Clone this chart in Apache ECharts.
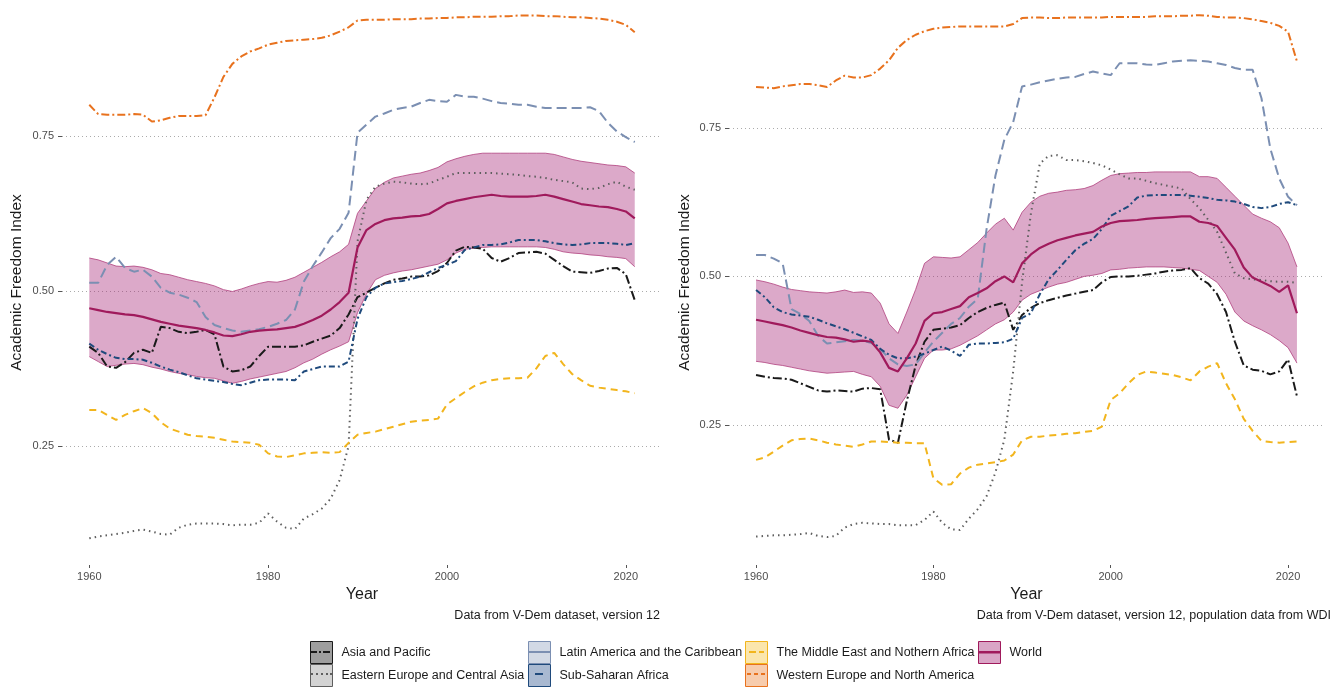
<!DOCTYPE html>
<html>
<head>
<meta charset="utf-8">
<script src="https://cdn.jsdelivr.net/npm/echarts@6.0.0/dist/echarts.min.js"></script>
<style>
  html, body { margin: 0; padding: 0; background: #fff; }
  #chart { width: 1343px; height: 688px; }
</style>
</head>
<body>
<div id="chart"></div>
<script>
const years = [1960,1961,1962,1963,1964,1965,1966,1967,1968,1969,1970,1971,1972,1973,1974,1975,1976,1977,1978,1979,
  1980,1981,1982,1983,1984,1985,1986,1987,1988,1989,1990,1991,1992,1993,1994,1995,1996,1997,1998,1999,
  2000,2001,2002,2003,2004,2005,2006,2007,2008,2009,2010,2011,2012,2013,2014,2015,2016,2017,2018,2019,2020,2021];

// left panel - regional means
const asiaL = [.410,.400,.378,.376,.385,.400,.405,.400,.442,.440,.434,.432,.434,.437,.430,.378,.370,.372,.378,.395,
  .410,.410,.410,.410,.412,.418,.423,.428,.440,.462,.490,.497,.505,.512,.518,.520,.523,.523,.525,.532,
  .545,.565,.571,.570,.568,.553,.547,.553,.561,.562,.563,.560,.550,.540,.531,.530,.529,.532,.536,.537,.527,.485];
const eastL = [.101,.104,.106,.108,.110,.113,.115,.112,.108,.107,.118,.123,.125,.125,.125,.124,.122,.123,.123,.126,
  .141,.128,.118,.116,.133,.140,.149,.165,.195,.250,.580,.647,.668,.673,.676,.675,.673,.672,.673,.679,
  .684,.690,.690,.690,.690,.690,.689,.688,.687,.685,.684,.682,.679,.677,.675,.665,.664,.666,.672,.676,.668,.663];
const latinL = [.513,.513,.542,.555,.537,.531,.534,.523,.505,.497,.494,.489,.482,.458,.445,.440,.436,.434,.436,.438,
  .442,.447,.453,.470,.515,.540,.562,.585,.600,.626,.755,.768,.781,.786,.792,.795,.797,.803,.808,.806,
  .805,.816,.813,.813,.810,.806,.803,.802,.800,.800,.797,.795,.795,.795,.795,.795,.796,.790,.771,.757,.748,.740];
const ssaL = [.415,.405,.398,.392,.390,.390,.389,.384,.378,.373,.369,.364,.359,.357,.355,.353,.350,.348,.352,.356,
  .357,.357,.357,.356,.370,.374,.378,.378,.378,.386,.455,.490,.505,.512,.514,.516,.519,.523,.530,.537,
  .542,.548,.566,.570,.574,.574,.575,.578,.582,.582,.582,.580,.577,.575,.574,.575,.577,.577,.577,.576,.574,.577];
const menaL = [.308,.308,.300,.292,.300,.306,.311,.303,.288,.278,.273,.268,.266,.265,.263,.260,.257,.256,.255,.252,
  .238,.233,.232,.235,.238,.239,.240,.239,.240,.255,.268,.271,.273,.277,.281,.285,.289,.291,.292,.294,
  .317,.327,.337,.346,.352,.356,.358,.359,.359,.360,.375,.395,.400,.382,.366,.356,.347,.344,.342,.340,.338,.335];
const westL = [.800,.785,.784,.784,.784,.785,.784,.773,.775,.779,.782,.782,.782,.783,.812,.845,.866,.878,.886,.891,
  .897,.900,.903,.904,.905,.906,.908,.912,.918,.925,.936,.937,.937,.937,.938,.938,.938,.939,.939,.940,
  .940,.941,.941,.942,.942,.942,.943,.943,.944,.944,.944,.943,.943,.942,.941,.941,.940,.939,.937,.934,.929,.917];
const worldL = [.472,.469,.466,.464,.462,.461,.458,.454,.450,.447,.444,.442,.440,.437,.433,.428,.427,.430,.434,.436,
  .437,.438,.440,.442,.447,.453,.460,.470,.482,.497,.570,.598,.608,.614,.617,.618,.620,.621,.624,.632,
  .641,.645,.648,.651,.653,.655,.653,.652,.652,.652,.653,.655,.652,.648,.644,.640,.638,.636,.635,.632,.628,.617];
const worldLoL = [.394,.386,.378,.380,.382,.383,.381,.377,.374,.370,.367,.365,.362,.360,.359,.355,.351,.354,.358,.361,
  .364,.367,.370,.376,.384,.390,.398,.405,.411,.418,.465,.495,.518,.525,.529,.532,.534,.537,.540,.543,
  .550,.561,.567,.569,.570,.571,.571,.571,.571,.571,.571,.570,.567,.563,.561,.560,.558,.557,.555,.554,.552,.539];
const worldHiL = [.553,.550,.545,.540,.539,.540,.538,.534,.528,.526,.522,.518,.515,.512,.508,.502,.499,.503,.508,.512,
  .515,.514,.517,.522,.530,.538,.546,.555,.563,.575,.625,.645,.665,.675,.682,.685,.688,.690,.694,.699,
  .708,.713,.717,.720,.722,.722,.722,.722,.722,.722,.722,.722,.720,.716,.712,.709,.707,.705,.703,.702,.700,.690];

// right panel - population weighted
const asiaR = [.334,.331,.329,.328,.326,.320,.314,.308,.306,.308,.307,.306,.311,.312,.310,.225,.220,.290,.350,.390,
  .410,.412,.414,.418,.430,.440,.447,.452,.456,.410,.435,.447,.455,.460,.464,.468,.471,.474,.477,.490,
  .499,.500,.500,.501,.503,.505,.508,.510,.511,.514,.497,.488,.470,.440,.390,.350,.343,.341,.335,.340,.360,.298];
const eastR = [.062,.063,.064,.064,.065,.066,.068,.063,.061,.063,.077,.083,.085,.084,.083,.083,.081,.081,.081,.090,
  .104,.085,.074,.073,.092,.108,.130,.170,.225,.340,.490,.606,.690,.703,.704,.696,.696,.694,.691,.687,
  .680,.672,.665,.665,.661,.657,.654,.651,.648,.630,.615,.595,.575,.540,.505,.497,.495,.494,.492,.491,.491,.489];
const latinR = [.536,.536,.530,.522,.445,.437,.425,.400,.387,.389,.391,.393,.392,.388,.378,.362,.352,.349,.352,.372,
  .390,.405,.420,.430,.449,.462,.580,.670,.730,.760,.820,.823,.827,.830,.833,.835,.836,.841,.845,.842,
  .839,.859,.859,.859,.857,.856,.859,.862,.863,.864,.863,.862,.859,.856,.851,.848,.848,.800,.715,.665,.634,.620];
const ssaR = [.477,.465,.448,.440,.436,.434,.432,.427,.421,.416,.411,.405,.399,.393,.378,.368,.362,.362,.365,.370,
  .376,.382,.375,.366,.385,.387,.387,.388,.389,.395,.430,.438,.470,.495,.511,.528,.544,.555,.563,.580,
  .602,.610,.618,.633,.636,.637,.637,.637,.637,.636,.634,.632,.629,.628,.626,.622,.617,.615,.617,.622,.625,.620];
const menaR = [.191,.195,.205,.215,.224,.226,.227,.224,.220,.217,.215,.213,.217,.222,.222,.221,.220,.220,.219,.219,
  .160,.149,.150,.168,.178,.183,.185,.187,.190,.200,.224,.230,.230,.232,.233,.235,.236,.238,.240,.247,
  .292,.303,.320,.334,.340,.338,.336,.334,.330,.325,.340,.348,.354,.320,.293,.260,.240,.223,.221,.220,.221,.222];
const westR = [.819,.818,.817,.820,.822,.824,.824,.822,.819,.830,.838,.835,.835,.839,.850,.864,.885,.898,.907,.913,
  .917,.919,.920,.921,.921,.921,.921,.921,.921,.925,.935,.936,.936,.935,.935,.936,.936,.936,.936,.936,
  .937,.937,.937,.937,.937,.938,.938,.938,.939,.939,.940,.939,.937,.936,.936,.935,.933,.930,.927,.922,.912,.862];
const worldR = [.427,.424,.421,.418,.414,.409,.405,.401,.398,.397,.394,.390,.392,.390,.372,.346,.340,.362,.387,.425,
  .438,.440,.445,.450,.465,.472,.480,.492,.500,.490,.522,.537,.548,.555,.561,.565,.569,.572,.575,.584,
  .590,.593,.594,.595,.597,.598,.599,.600,.601,.601,.592,.590,.585,.565,.545,.515,.498,.491,.484,.474,.485,.438];
const worldLoR = [.357,.355,.352,.350,.347,.344,.341,.339,.337,.338,.339,.340,.335,.331,.315,.283,.278,.300,.331,.362,
  .376,.376,.378,.384,.392,.400,.410,.420,.427,.440,.460,.470,.476,.482,.487,.490,.495,.500,.502,.505,
  .511,.512,.514,.515,.516,.516,.516,.515,.514,.512,.510,.500,.490,.470,.440,.425,.417,.410,.402,.392,.380,.354];
const worldHiR = [.494,.491,.487,.482,.478,.476,.474,.473,.472,.474,.477,.473,.474,.472,.455,.420,.404,.440,.478,.522,
  .533,.532,.531,.533,.545,.557,.573,.588,.598,.578,.608,.625,.635,.640,.642,.645,.646,.648,.653,.662,
  .670,.673,.674,.675,.675,.676,.676,.676,.676,.676,.668,.668,.665,.650,.635,.620,.605,.598,.592,.582,.556,.516];

const regions = ['Asia and Pacific', 'Eastern Europe and Central Asia', 'Latin America and the Caribbean',
  'Sub-Saharan Africa', 'The Middle East and Nothern Africa', 'Western Europe and North America', 'World'];
const lineColors = ['#1a1a1a', '#5e5e5e', '#7b8fb2', '#1f4a7c', '#f2b51d', '#e8721e', '#a01a5c'];
const lineTypes = [[9, 3, 2, 3], [1.5, 4], [10, 5], [6, 3, 2, 3], [7, 5], [8, 3, 2, 3], 'solid'];
const keyFills = ['rgba(0,0,0,0.38)', 'rgba(110,110,110,0.3)', 'rgba(125,145,180,0.35)', 'rgba(40,80,140,0.4)',
  'rgba(245,190,40,0.38)', 'rgba(235,120,40,0.38)', 'rgba(168,40,120,0.42)'];
const keyLines = [
  'path://M0,0M22,22M0,10h7v2h-7zM9,10h2v2h-2zM13,10h7v2h-7z',
  'path://M0,0M22,22M1,10h2v2h-2zM6,10h2v2h-2zM11,10h2v2h-2zM16,10h2v2h-2zM20,10h2v2h-2z',
  'path://M0,0M22,22M0,10h22v2h-22z',
  'path://M0,0M22,22M7,10h8v2h-8z',
  'path://M0,0M22,22M4,10h7v2h-7zM14,10h5v2h-5z',
  'path://M0,0M22,22M2,10h4v2h-4zM9,10h4v2h-4zM16,10h4v2h-4z',
  'path://M0,0M22,22M0,10h22v2.5h-22z'
];

const pairs = arr => years.map((y, i) => [y, arr[i]]);
const font = 'Liberation Sans';

function regionSeries(idx, lists) {
  return lists.map((arr, k) => ({
    name: regions[k],
    type: 'line',
    xAxisIndex: idx, yAxisIndex: idx,
    data: pairs(arr),
    symbol: 'none',
    silent: true,
    z: k === 6 ? 4 : 3,
    lineStyle: { color: lineColors[k], width: k === 6 ? 2.2 : 2, type: lineTypes[k] },
    itemStyle: { color: lineColors[k] }
  }));
}

// ribbon: polygon through the axis coords, plus thin edge lines
function bandSeries(idx, lo, hi) {
  const rows = years.map((y, i) => [y, lo[i], hi[i]]);
  const edge = arr => ({
    type: 'line', xAxisIndex: idx, yAxisIndex: idx, symbol: 'none', silent: true, z: 2,
    data: pairs(arr), lineStyle: { color: '#b0407e', width: 0.8 }
  });
  return [
    {
      type: 'custom', xAxisIndex: idx, yAxisIndex: idx, silent: true, z: 1,
      data: rows, encode: { x: 0, y: [1, 2] },
      renderItem: (params, api) => {
        if (params.dataIndexInside !== 0) return null;
        const pts = [];
        for (let i = 0; i < rows.length; i++) pts.push(api.coord([rows[i][0], rows[i][2]]));
        for (let i = rows.length - 1; i >= 0; i--) pts.push(api.coord([rows[i][0], rows[i][1]]));
        return { type: 'polygon', shape: { points: pts }, style: { fill: 'rgba(168,40,120,0.4)' } };
      }
    },
    edge(lo), edge(hi)
  ];
}

function xAxisOpt(idx) {
  return {
    type: 'value', gridIndex: idx, min: 1956.95, max: 2024.05,
    name: 'Year', nameLocation: 'middle', nameGap: 21,
    nameTextStyle: { fontSize: 16, color: '#1a1a1a', fontFamily: font },
    axisLine: { show: false },
    axisTick: { show: true, length: 3, customValues: [1960, 1980, 2000, 2020], lineStyle: { color: '#555' } },
    axisLabel: { customValues: [1960, 1980, 2000, 2020], margin: 6, fontSize: 11, color: '#4d4d4d', fontFamily: font,
      formatter: v => String(v) },
    splitLine: { show: false }
  };
}

function yAxisOpt(idx, min, max, gap) {
  return {
    type: 'value', gridIndex: idx, min: min, max: max,
    name: 'Academic Freedom Index', nameLocation: 'middle', nameRotate: 90, nameGap: gap,
    nameTextStyle: { fontSize: 15.5, color: '#1a1a1a', fontFamily: font },
    axisLine: { show: false },
    axisTick: { show: true, length: 4, customValues: [0.25, 0.5, 0.75], lineStyle: { color: '#555' } },
    axisLabel: { customValues: [0.25, 0.5, 0.75], margin: 8, fontSize: 11, color: '#4d4d4d', fontFamily: font,
      formatter: v => v.toFixed(2) },
    splitLine: { show: true, lineStyle: { color: '#ababab', width: 1, type: [1, 3] } }
  };
}

const legendCols = [[0, 1], [2, 3], [4, 5], [6]];
const legendLeft = [310, 528, 745, 978];
const legends = [];
legendCols.forEach((col, c) => {
  const base = {
    orient: 'vertical', left: legendLeft[c], top: 641, padding: 0, itemGap: 0,
    itemWidth: 22, itemHeight: 22, selectedMode: false
  };
  legends.push(Object.assign({}, base, {
    data: col.map(k => ({ name: regions[k], icon: 'rect',
      itemStyle: { color: keyFills[k], borderColor: lineColors[k], borderWidth: 1, opacity: 1 } })),
    textStyle: { fontSize: 12.5, color: '#1a1a1a', fontFamily: font, padding: [0, 0, 0, 4] }
  }));
  legends.push(Object.assign({}, base, {
    data: col.map(k => ({ name: regions[k], icon: keyLines[k],
      itemStyle: { color: lineColors[k], borderWidth: 0, opacity: 1 } })),
    textStyle: { fontSize: 12.5, color: 'rgba(0,0,0,0)', fontFamily: font, padding: [0, 0, 0, 4] }
  }));
});

const chart = echarts.init(document.getElementById('chart'), null, { renderer: 'canvas' });
chart.setOption({
  animation: false,
  backgroundColor: '#ffffff',
  textStyle: { fontFamily: font },
  title: [
    { text: 'Data from V-Dem dataset, version 12', right: 683, top: 609,
      textStyle: { fontSize: 12.5, fontWeight: 'normal', color: '#1a1a1a', fontFamily: font }, padding: 0 },
    { text: 'Data from V-Dem dataset, version 12, population data from WDI', right: 12, top: 609,
      textStyle: { fontSize: 12.5, fontWeight: 'normal', color: '#1a1a1a', fontFamily: font }, padding: 0 }
  ],
  grid: [
    { left: 62, top: 0, width: 600, height: 565 },
    { left: 729, top: 0, width: 595, height: 565 }
  ],
  xAxis: [xAxisOpt(0), xAxisOpt(1)],
  yAxis: [yAxisOpt(0, 0.058, 0.969, 37), yAxisOpt(1, 0.014, 0.9655, 36)],
  legend: legends,
  series: [].concat(
    bandSeries(0, worldLoL, worldHiL),
    regionSeries(0, [asiaL, eastL, latinL, ssaL, menaL, westL, worldL]),
    bandSeries(1, worldLoR, worldHiR),
    regionSeries(1, [asiaR, eastR, latinR, ssaR, menaR, westR, worldR])
  )
});
</script>
</body>
</html>
